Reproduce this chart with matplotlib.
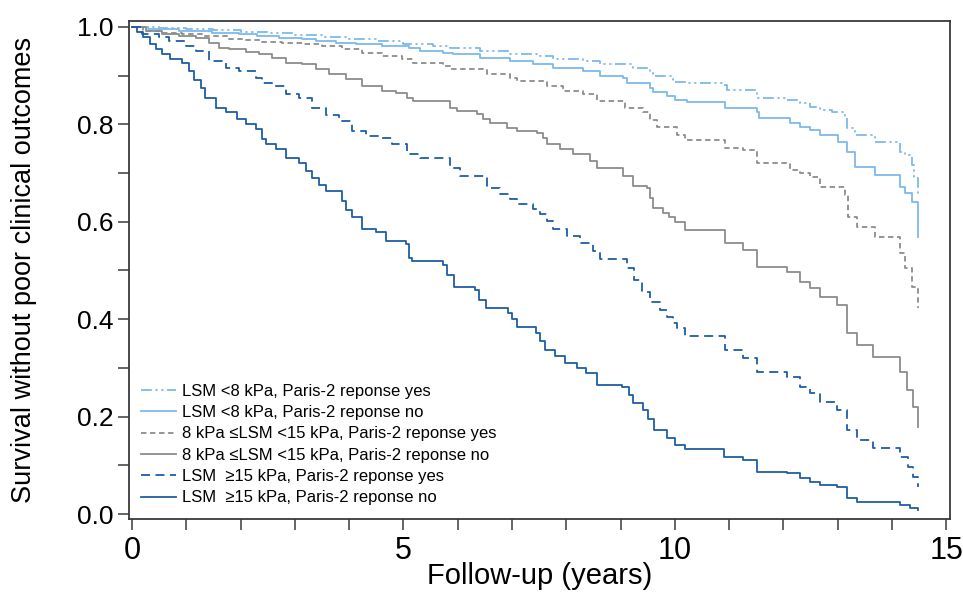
import matplotlib
matplotlib.use("Agg")
import matplotlib.pyplot as plt
from matplotlib.lines import Line2D

plt.rcParams['font.family'] = ['Liberation Sans', 'DejaVu Sans']

# ---------------- data (Kaplan-Meier step curves) ----------------
labels = [
    "LSM <8 kPa, Paris-2 reponse yes",
    "LSM <8 kPa, Paris-2 reponse no",
    "8 kPa \u2264LSM <15 kPa, Paris-2 reponse yes",
    "8 kPa \u2264LSM <15 kPa, Paris-2 reponse no",
    "LSM  \u226515 kPa, Paris-2 reponse yes",
    "LSM  \u226515 kPa, Paris-2 reponse no",
]

t_lsm8_yes = [0, 0.5, 1.0, 1.5, 2.0, 2.5, 3.0, 3.5, 4.0, 4.5, 5.0, 5.55, 5.86, 6.41, 6.96, 7.52,
              7.76, 8.31, 8.62, 9.23, 9.54, 9.6, 9.97, 10.23, 10.9, 10.96, 11.52, 12.07, 12.31,
              12.49, 12.68, 12.9, 13.14, 13.17, 13.32, 13.69, 14.15, 14.24, 14.37, 14.4, 14.48]
s_lsm8_yes = [1.0, 0.998, 0.996, 0.993, 0.99, 0.987, 0.984, 0.98, 0.976, 0.971, 0.965, 0.961,
              0.957, 0.951, 0.945, 0.94, 0.934, 0.93, 0.924, 0.916, 0.908, 0.899, 0.887, 0.885,
              0.881, 0.871, 0.854, 0.85, 0.844, 0.836, 0.83, 0.825, 0.815, 0.793, 0.778, 0.764,
              0.743, 0.737, 0.717, 0.69, 0.651]

t_lsm8_no = [0, 0.3, 0.87, 1.47, 1.97, 2.3, 2.71, 3.13, 3.39, 3.76, 4.13, 4.61, 5.1, 5.31, 5.73,
             5.92, 6.41, 6.96, 7.39, 7.76, 8.31, 8.62, 9.05, 9.12, 9.54, 9.6, 9.86, 10.0, 10.23,
             10.93, 11.52, 11.55, 12.12, 12.31, 12.49, 12.68, 13.01, 13.17, 13.32, 13.69, 14.15,
             14.24, 14.37, 14.48]
s_lsm8_no = [1.0, 0.996, 0.992, 0.988, 0.986, 0.982, 0.977, 0.975, 0.971, 0.967, 0.965, 0.961,
             0.957, 0.951, 0.947, 0.945, 0.936, 0.93, 0.924, 0.916, 0.91, 0.9, 0.895, 0.885,
             0.875, 0.867, 0.858, 0.85, 0.846, 0.834, 0.825, 0.813, 0.803, 0.795, 0.789, 0.778,
             0.764, 0.743, 0.713, 0.696, 0.671, 0.659, 0.641, 0.569]

t_mid_yes = [0, 0.2, 0.55, 0.92, 1.29, 1.79, 2.1, 2.4, 2.76, 3.13, 3.5, 3.87, 4.24, 4.61, 4.98,
             5.18, 5.73, 5.86, 6.54, 6.96, 7.09, 7.65, 7.94, 8.31, 8.57, 9.08, 9.42, 9.54, 9.67,
             10.04, 10.19, 10.93, 11.26, 11.52, 12.12, 12.31, 12.49, 12.68, 13.14, 13.2, 13.36,
             13.69, 14.15, 14.24, 14.37, 14.48]
s_mid_yes = [1.0, 0.992, 0.988, 0.985, 0.981, 0.975, 0.972, 0.969, 0.966, 0.964, 0.96, 0.955,
             0.947, 0.94, 0.934, 0.926, 0.92, 0.914, 0.903, 0.895, 0.889, 0.879, 0.869, 0.862,
             0.848, 0.834, 0.825, 0.809, 0.795, 0.778, 0.768, 0.752, 0.747, 0.721, 0.706, 0.7,
             0.692, 0.671, 0.655, 0.61, 0.589, 0.569, 0.536, 0.505, 0.466, 0.423]

t_mid_no = [0, 0.26, 0.55, 0.87, 1.18, 1.42, 1.6, 1.79, 2.1, 2.34, 2.58, 2.84, 3.13, 3.39, 3.63,
            3.94, 4.24, 4.61, 4.86, 5.07, 5.18, 5.86, 5.98, 6.36, 6.47, 6.6, 6.91, 7.09, 7.46,
            7.57, 7.65, 7.89, 8.13, 8.44, 8.57, 9.05, 9.23, 9.49, 9.54, 9.6, 9.78, 9.9, 10.0,
            10.19, 10.93, 11.26, 11.52, 12.07, 12.31, 12.49, 12.68, 12.99, 13.17, 13.36, 13.65,
            14.15, 14.28, 14.39, 14.48]
s_mid_no = [1.0, 0.992, 0.986, 0.982, 0.977, 0.967, 0.957, 0.955, 0.949, 0.945, 0.936, 0.926,
            0.924, 0.914, 0.903, 0.893, 0.879, 0.869, 0.865, 0.854, 0.848, 0.834, 0.828, 0.821,
            0.811, 0.803, 0.793, 0.786, 0.782, 0.772, 0.76, 0.749, 0.739, 0.725, 0.71, 0.694,
            0.673, 0.669, 0.649, 0.628, 0.618, 0.61, 0.6, 0.583, 0.556, 0.542, 0.507, 0.497,
            0.476, 0.464, 0.446, 0.429, 0.372, 0.347, 0.322, 0.292, 0.255, 0.22, 0.179]

t_hi_yes = [0, 0.18, 0.5, 0.68, 1.0, 1.18, 1.42, 1.73, 1.97, 2.28, 2.4, 2.58, 2.84, 3.08, 3.32,
            3.57, 3.81, 4.05, 4.31, 4.55, 4.79, 5.07, 5.31, 5.86, 6.04, 6.54, 6.78, 6.96, 7.09,
            7.39, 7.52, 7.65, 7.76, 8.01, 8.25, 8.49, 8.62, 9.12, 9.25, 9.4, 9.55, 9.73, 9.86,
            9.97, 10.04, 10.19, 10.93, 11.26, 11.52, 12.07, 12.31, 12.49, 12.68, 12.99, 13.17,
            13.36, 13.65, 14.15, 14.3, 14.39, 14.48]
s_hi_yes = [1.0, 0.986, 0.98, 0.97, 0.96, 0.95, 0.93, 0.916, 0.91, 0.895, 0.885, 0.879, 0.862,
            0.854, 0.834, 0.82, 0.807, 0.786, 0.776, 0.772, 0.76, 0.74, 0.731, 0.71, 0.694,
            0.67, 0.657, 0.647, 0.637, 0.626, 0.616, 0.602, 0.585, 0.571, 0.556, 0.54, 0.524,
            0.505, 0.48, 0.455, 0.435, 0.419, 0.405, 0.392, 0.382, 0.366, 0.337, 0.32, 0.292,
            0.281, 0.261, 0.248, 0.23, 0.214, 0.172, 0.152, 0.135, 0.117, 0.097, 0.076, 0.055]

t_hi_no = [0, 0.1, 0.2, 0.33, 0.45, 0.55, 0.7, 0.92, 1.05, 1.15, 1.27, 1.35, 1.55, 1.73, 1.93,
           2.1, 2.28, 2.4, 2.47, 2.65, 2.84, 3.08, 3.2, 3.32, 3.45, 3.57, 3.87, 3.95, 4.05, 4.24,
           4.5, 4.68, 5.05, 5.1, 5.15, 5.73, 5.8, 5.93, 6.32, 6.4, 6.52, 6.93, 7.0, 7.1, 7.44,
           7.52, 7.6, 7.8, 7.98, 8.2, 8.37, 8.57, 9.03, 9.15, 9.23, 9.42, 9.5, 9.62, 9.86, 10.0,
           10.19, 10.9, 11.26, 11.52, 12.07, 12.3, 12.5, 12.68, 12.99, 13.17, 13.36, 14.15,
           14.33, 14.48]
s_hi_no = [1.0, 0.99, 0.98, 0.965, 0.955, 0.945, 0.935, 0.925, 0.91, 0.89, 0.875, 0.855, 0.834,
           0.826, 0.81, 0.8, 0.79, 0.77, 0.76, 0.75, 0.73, 0.72, 0.705, 0.69, 0.675, 0.663,
           0.643, 0.625, 0.61, 0.585, 0.58, 0.56, 0.555, 0.525, 0.52, 0.511, 0.49, 0.466, 0.46,
           0.44, 0.423, 0.413, 0.4, 0.384, 0.372, 0.355, 0.337, 0.325, 0.31, 0.3, 0.29, 0.265,
           0.261, 0.245, 0.228, 0.214, 0.195, 0.172, 0.156, 0.142, 0.133, 0.117, 0.111, 0.086,
           0.084, 0.074, 0.066, 0.06, 0.056, 0.033, 0.025, 0.018, 0.012, 0.008]

x_major = [0, 5, 10, 15]
y_major = [0.0, 0.2, 0.4, 0.6, 0.8, 1.0]

# ---------------- styles ----------------
light = "#7db9ee"
gray = "#8c8c8c"
dark = "#1f5ea6"
series = [
    (t_lsm8_yes, s_lsm8_yes, light, (0, (6, 2, 1.2, 2, 1.2, 2))),
    (t_lsm8_no, s_lsm8_no, light, "-"),
    (t_mid_yes, s_mid_yes, gray, (0, (3, 2))),
    (t_mid_no, s_mid_no, gray, "-"),
    (t_hi_yes, s_hi_yes, dark, (0, (5, 3))),
    (t_hi_no, s_hi_no, dark, "-"),
]

fig = plt.figure(figsize=(9.63, 5.93), dpi=100)
ax = fig.add_axes([129 / 963, 1 - 519 / 593, (950 - 129) / 963, (519 - 21) / 593])

handles = []
for (t, s, c, ls), lab in zip(series, labels):
    ax.plot(t, s, drawstyle="steps-post", color=c, linestyle=ls, linewidth=1.3)
    handles.append(Line2D([], [], color=c, linestyle=ls, linewidth=1.3, label=lab))

ax.set_xlim(-0.055, 15.07)
ax.set_ylim(-0.010, 1.012)

ax.set_xticks(x_major)
ax.set_xticks(range(0, 16), minor=True)
ax.set_yticks(y_major)
ax.set_yticks([i / 10 for i in range(11)], minor=True)
ax.set_yticklabels([f"{v:.1f}" for v in y_major])
ax.set_xticklabels([str(v) for v in x_major])

for sp in ax.spines.values():
    sp.set_color("#3a3a3a")
    sp.set_linewidth(1.3)

ax.tick_params(axis="both", which="both", direction="out", length=8, width=1.1,
               color="#3a3a3a")
ax.tick_params(axis="y", labelsize=19, pad=3)
ax.tick_params(axis="x", labelsize=22, pad=4)

ax.set_xlabel("Follow-up (years)", fontsize=21, labelpad=-3)
ax.set_ylabel("Survival without poor clinical outcomes", fontsize=19.5, labelpad=29)

leg = ax.legend(handles=handles, loc="lower left", bbox_to_anchor=(0.0, 0.004),
                frameon=False, fontsize=12, handlelength=2.1, handletextpad=0.4,
                labelspacing=0.38, borderaxespad=0.3)

fig.savefig("out.png", dpi=100)
